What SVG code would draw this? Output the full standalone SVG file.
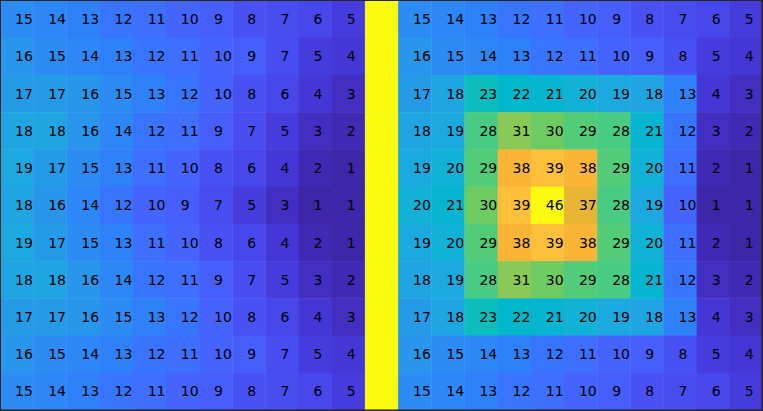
<svg xmlns="http://www.w3.org/2000/svg" width="763" height="411" viewBox="0 0 763 411">
<style>
rect{stroke:none}
text{font-family:"DejaVu Sans",sans-serif;font-size:14px;fill:#000}
.c1{fill:#3e26a8}.c2{fill:#402ab4}.c3{fill:#422ec0}.c4{fill:#4537d5}.c5{fill:#463cde}
.c6{fill:#4747eb}.c7{fill:#484df0}.c8{fill:#4852f4}.c9{fill:#465efb}.c10{fill:#4563fd}
.c11{fill:#3e6fff}.c12{fill:#3875fe}.c13{fill:#2f81fa}.c14{fill:#2e87f7}.c15{fill:#2d8cf3}
.c16{fill:#2796eb}.c17{fill:#259be8}.c18{fill:#20a5e3}.c19{fill:#1ca9df}.c20{fill:#12b1d6}
.c21{fill:#08b5d0}.c22{fill:#01b8ca}.c23{fill:#0bbdbd}.c28{fill:#4acb84}.c29{fill:#53cc7a}
.c30{fill:#6ecb62}.c31{fill:#8ac958}.c37{fill:#e8b534}.c38{fill:#fbb536}.c39{fill:#fec03a}
.c46{fill:#fbfb10}
</style>
<g id="heatmap">
<g id="row0" transform="translate(0,0.5)">
<rect x="0" y="0" width="33.6" height="37.7" class="c15"/><rect x="33.17" y="0" width="33.6" height="37.7" class="c14"/><rect x="66.35" y="0" width="33.6" height="37.7" class="c13"/><rect x="99.52" y="0" width="33.6" height="37.7" class="c12"/><rect x="132.7" y="0" width="33.6" height="37.7" class="c11"/><rect x="165.87" y="0" width="33.6" height="37.7" class="c10"/><rect x="199.04" y="0" width="33.6" height="37.7" class="c9"/><rect x="232.22" y="0" width="33.6" height="37.7" class="c8"/><rect x="265.39" y="0" width="33.6" height="37.7" class="c7"/><rect x="298.57" y="0" width="33.6" height="37.7" class="c6"/><rect x="331.74" y="0" width="33.6" height="37.7" class="c5"/><rect x="364.91" y="0" width="33.6" height="37.7" class="c46"/><rect x="398.09" y="0" width="33.6" height="37.7" class="c15"/><rect x="431.26" y="0" width="33.6" height="37.7" class="c14"/><rect x="464.43" y="0" width="33.6" height="37.7" class="c13"/><rect x="497.61" y="0" width="33.6" height="37.7" class="c12"/><rect x="530.78" y="0" width="33.6" height="37.7" class="c11"/><rect x="563.96" y="0" width="33.6" height="37.7" class="c10"/><rect x="597.13" y="0" width="33.6" height="37.7" class="c9"/><rect x="630.3" y="0" width="33.6" height="37.7" class="c8"/><rect x="663.48" y="0" width="33.6" height="37.7" class="c7"/><rect x="696.65" y="0" width="33.6" height="37.7" class="c6"/><rect x="729.83" y="0" width="33.6" height="37.7" class="c5"/>
<text x="15" y="23.7">15</text><text x="48.17" y="23.7">14</text><text x="81.35" y="23.7">13</text><text x="114.52" y="23.7">12</text><text x="147.7" y="23.7">11</text><text x="180.87" y="23.7">10</text><text x="214.04" y="23.7">9</text><text x="247.22" y="23.7">8</text><text x="280.39" y="23.7">7</text><text x="313.57" y="23.7">6</text><text x="346.74" y="23.7">5</text><text x="413.09" y="23.7">15</text><text x="446.26" y="23.7">14</text><text x="479.43" y="23.7">13</text><text x="512.61" y="23.7">12</text><text x="545.78" y="23.7">11</text><text x="578.96" y="23.7">10</text><text x="612.13" y="23.7">9</text><text x="645.3" y="23.7">8</text><text x="678.48" y="23.7">7</text><text x="711.65" y="23.7">6</text><text x="744.83" y="23.7">5</text>
</g>
<g id="row1" transform="translate(0,37.73)">
<rect x="0" y="0" width="33.6" height="37.7" class="c16"/><rect x="33.17" y="0" width="33.6" height="37.7" class="c15"/><rect x="66.35" y="0" width="33.6" height="37.7" class="c14"/><rect x="99.52" y="0" width="33.6" height="37.7" class="c13"/><rect x="132.7" y="0" width="33.6" height="37.7" class="c12"/><rect x="165.87" y="0" width="33.6" height="37.7" class="c11"/><rect x="199.04" y="0" width="33.6" height="37.7" class="c10"/><rect x="232.22" y="0" width="33.6" height="37.7" class="c9"/><rect x="265.39" y="0" width="33.6" height="37.7" class="c7"/><rect x="298.57" y="0" width="33.6" height="37.7" class="c5"/><rect x="331.74" y="0" width="33.6" height="37.7" class="c4"/><rect x="364.91" y="0" width="33.6" height="37.7" class="c46"/><rect x="398.09" y="0" width="33.6" height="37.7" class="c16"/><rect x="431.26" y="0" width="33.6" height="37.7" class="c15"/><rect x="464.43" y="0" width="33.6" height="37.7" class="c14"/><rect x="497.61" y="0" width="33.6" height="37.7" class="c13"/><rect x="530.78" y="0" width="33.6" height="37.7" class="c12"/><rect x="563.96" y="0" width="33.6" height="37.7" class="c11"/><rect x="597.13" y="0" width="33.6" height="37.7" class="c10"/><rect x="630.3" y="0" width="33.6" height="37.7" class="c9"/><rect x="663.48" y="0" width="33.6" height="37.7" class="c8"/><rect x="696.65" y="0" width="33.6" height="37.7" class="c5"/><rect x="729.83" y="0" width="33.6" height="37.7" class="c4"/>
<text x="15" y="23.7">16</text><text x="48.17" y="23.7">15</text><text x="81.35" y="23.7">14</text><text x="114.52" y="23.7">13</text><text x="147.7" y="23.7">12</text><text x="180.87" y="23.7">11</text><text x="214.04" y="23.7">10</text><text x="247.22" y="23.7">9</text><text x="280.39" y="23.7">7</text><text x="313.57" y="23.7">5</text><text x="346.74" y="23.7">4</text><text x="413.09" y="23.7">16</text><text x="446.26" y="23.7">15</text><text x="479.43" y="23.7">14</text><text x="512.61" y="23.7">13</text><text x="545.78" y="23.7">12</text><text x="578.96" y="23.7">11</text><text x="612.13" y="23.7">10</text><text x="645.3" y="23.7">9</text><text x="678.48" y="23.7">8</text><text x="711.65" y="23.7">5</text><text x="744.83" y="23.7">4</text>
</g>
<g id="row2" transform="translate(0,74.95)">
<rect x="0" y="0" width="33.6" height="37.7" class="c17"/><rect x="33.17" y="0" width="33.6" height="37.7" class="c17"/><rect x="66.35" y="0" width="33.6" height="37.7" class="c16"/><rect x="99.52" y="0" width="33.6" height="37.7" class="c15"/><rect x="132.7" y="0" width="33.6" height="37.7" class="c13"/><rect x="165.87" y="0" width="33.6" height="37.7" class="c12"/><rect x="199.04" y="0" width="33.6" height="37.7" class="c10"/><rect x="232.22" y="0" width="33.6" height="37.7" class="c8"/><rect x="265.39" y="0" width="33.6" height="37.7" class="c6"/><rect x="298.57" y="0" width="33.6" height="37.7" class="c4"/><rect x="331.74" y="0" width="33.6" height="37.7" class="c3"/><rect x="364.91" y="0" width="33.6" height="37.7" class="c46"/><rect x="398.09" y="0" width="33.6" height="37.7" class="c17"/><rect x="431.26" y="0" width="33.6" height="37.7" class="c18"/><rect x="464.43" y="0" width="33.6" height="37.7" class="c23"/><rect x="497.61" y="0" width="33.6" height="37.7" class="c22"/><rect x="530.78" y="0" width="33.6" height="37.7" class="c21"/><rect x="563.96" y="0" width="33.6" height="37.7" class="c20"/><rect x="597.13" y="0" width="33.6" height="37.7" class="c19"/><rect x="630.3" y="0" width="33.6" height="37.7" class="c18"/><rect x="663.48" y="0" width="33.6" height="37.7" class="c13"/><rect x="696.65" y="0" width="33.6" height="37.7" class="c4"/><rect x="729.83" y="0" width="33.6" height="37.7" class="c3"/>
<text x="15" y="23.7">17</text><text x="48.17" y="23.7">17</text><text x="81.35" y="23.7">16</text><text x="114.52" y="23.7">15</text><text x="147.7" y="23.7">13</text><text x="180.87" y="23.7">12</text><text x="214.04" y="23.7">10</text><text x="247.22" y="23.7">8</text><text x="280.39" y="23.7">6</text><text x="313.57" y="23.7">4</text><text x="346.74" y="23.7">3</text><text x="413.09" y="23.7">17</text><text x="446.26" y="23.7">18</text><text x="479.43" y="23.7">23</text><text x="512.61" y="23.7">22</text><text x="545.78" y="23.7">21</text><text x="578.96" y="23.7">20</text><text x="612.13" y="23.7">19</text><text x="645.3" y="23.7">18</text><text x="678.48" y="23.7">13</text><text x="711.65" y="23.7">4</text><text x="744.83" y="23.7">3</text>
</g>
<g id="row3" transform="translate(0,112.18)">
<rect x="0" y="0" width="33.6" height="37.7" class="c18"/><rect x="33.17" y="0" width="33.6" height="37.7" class="c18"/><rect x="66.35" y="0" width="33.6" height="37.7" class="c16"/><rect x="99.52" y="0" width="33.6" height="37.7" class="c14"/><rect x="132.7" y="0" width="33.6" height="37.7" class="c12"/><rect x="165.87" y="0" width="33.6" height="37.7" class="c11"/><rect x="199.04" y="0" width="33.6" height="37.7" class="c9"/><rect x="232.22" y="0" width="33.6" height="37.7" class="c7"/><rect x="265.39" y="0" width="33.6" height="37.7" class="c5"/><rect x="298.57" y="0" width="33.6" height="37.7" class="c3"/><rect x="331.74" y="0" width="33.6" height="37.7" class="c2"/><rect x="364.91" y="0" width="33.6" height="37.7" class="c46"/><rect x="398.09" y="0" width="33.6" height="37.7" class="c18"/><rect x="431.26" y="0" width="33.6" height="37.7" class="c19"/><rect x="464.43" y="0" width="33.6" height="37.7" class="c28"/><rect x="497.61" y="0" width="33.6" height="37.7" class="c31"/><rect x="530.78" y="0" width="33.6" height="37.7" class="c30"/><rect x="563.96" y="0" width="33.6" height="37.7" class="c29"/><rect x="597.13" y="0" width="33.6" height="37.7" class="c28"/><rect x="630.3" y="0" width="33.6" height="37.7" class="c21"/><rect x="663.48" y="0" width="33.6" height="37.7" class="c12"/><rect x="696.65" y="0" width="33.6" height="37.7" class="c3"/><rect x="729.83" y="0" width="33.6" height="37.7" class="c2"/>
<text x="15" y="23.7">18</text><text x="48.17" y="23.7">18</text><text x="81.35" y="23.7">16</text><text x="114.52" y="23.7">14</text><text x="147.7" y="23.7">12</text><text x="180.87" y="23.7">11</text><text x="214.04" y="23.7">9</text><text x="247.22" y="23.7">7</text><text x="280.39" y="23.7">5</text><text x="313.57" y="23.7">3</text><text x="346.74" y="23.7">2</text><text x="413.09" y="23.7">18</text><text x="446.26" y="23.7">19</text><text x="479.43" y="23.7">28</text><text x="512.61" y="23.7">31</text><text x="545.78" y="23.7">30</text><text x="578.96" y="23.7">29</text><text x="612.13" y="23.7">28</text><text x="645.3" y="23.7">21</text><text x="678.48" y="23.7">12</text><text x="711.65" y="23.7">3</text><text x="744.83" y="23.7">2</text>
</g>
<g id="row4" transform="translate(0,149.41)">
<rect x="0" y="0" width="33.6" height="37.7" class="c19"/><rect x="33.17" y="0" width="33.6" height="37.7" class="c17"/><rect x="66.35" y="0" width="33.6" height="37.7" class="c15"/><rect x="99.52" y="0" width="33.6" height="37.7" class="c13"/><rect x="132.7" y="0" width="33.6" height="37.7" class="c11"/><rect x="165.87" y="0" width="33.6" height="37.7" class="c10"/><rect x="199.04" y="0" width="33.6" height="37.7" class="c8"/><rect x="232.22" y="0" width="33.6" height="37.7" class="c6"/><rect x="265.39" y="0" width="33.6" height="37.7" class="c4"/><rect x="298.57" y="0" width="33.6" height="37.7" class="c2"/><rect x="331.74" y="0" width="33.6" height="37.7" class="c1"/><rect x="364.91" y="0" width="33.6" height="37.7" class="c46"/><rect x="398.09" y="0" width="33.6" height="37.7" class="c19"/><rect x="431.26" y="0" width="33.6" height="37.7" class="c20"/><rect x="464.43" y="0" width="33.6" height="37.7" class="c29"/><rect x="497.61" y="0" width="33.6" height="37.7" class="c38"/><rect x="530.78" y="0" width="33.6" height="37.7" class="c39"/><rect x="563.96" y="0" width="33.6" height="37.7" class="c38"/><rect x="597.13" y="0" width="33.6" height="37.7" class="c29"/><rect x="630.3" y="0" width="33.6" height="37.7" class="c20"/><rect x="663.48" y="0" width="33.6" height="37.7" class="c11"/><rect x="696.65" y="0" width="33.6" height="37.7" class="c2"/><rect x="729.83" y="0" width="33.6" height="37.7" class="c1"/>
<text x="15" y="23.7">19</text><text x="48.17" y="23.7">17</text><text x="81.35" y="23.7">15</text><text x="114.52" y="23.7">13</text><text x="147.7" y="23.7">11</text><text x="180.87" y="23.7">10</text><text x="214.04" y="23.7">8</text><text x="247.22" y="23.7">6</text><text x="280.39" y="23.7">4</text><text x="313.57" y="23.7">2</text><text x="346.74" y="23.7">1</text><text x="413.09" y="23.7">19</text><text x="446.26" y="23.7">20</text><text x="479.43" y="23.7">29</text><text x="512.61" y="23.7">38</text><text x="545.78" y="23.7">39</text><text x="578.96" y="23.7">38</text><text x="612.13" y="23.7">29</text><text x="645.3" y="23.7">20</text><text x="678.48" y="23.7">11</text><text x="711.65" y="23.7">2</text><text x="744.83" y="23.7">1</text>
</g>
<g id="row5" transform="translate(0,186.64)">
<rect x="0" y="0" width="33.6" height="37.7" class="c18"/><rect x="33.17" y="0" width="33.6" height="37.7" class="c16"/><rect x="66.35" y="0" width="33.6" height="37.7" class="c14"/><rect x="99.52" y="0" width="33.6" height="37.7" class="c12"/><rect x="132.7" y="0" width="33.6" height="37.7" class="c10"/><rect x="165.87" y="0" width="33.6" height="37.7" class="c9"/><rect x="199.04" y="0" width="33.6" height="37.7" class="c7"/><rect x="232.22" y="0" width="33.6" height="37.7" class="c5"/><rect x="265.39" y="0" width="33.6" height="37.7" class="c3"/><rect x="298.57" y="0" width="33.6" height="37.7" class="c1"/><rect x="331.74" y="0" width="33.6" height="37.7" class="c1"/><rect x="364.91" y="0" width="33.6" height="37.7" class="c46"/><rect x="398.09" y="0" width="33.6" height="37.7" class="c20"/><rect x="431.26" y="0" width="33.6" height="37.7" class="c21"/><rect x="464.43" y="0" width="33.6" height="37.7" class="c30"/><rect x="497.61" y="0" width="33.6" height="37.7" class="c39"/><rect x="530.78" y="0" width="33.6" height="37.7" class="c46"/><rect x="563.96" y="0" width="33.6" height="37.7" class="c37"/><rect x="597.13" y="0" width="33.6" height="37.7" class="c28"/><rect x="630.3" y="0" width="33.6" height="37.7" class="c19"/><rect x="663.48" y="0" width="33.6" height="37.7" class="c10"/><rect x="696.65" y="0" width="33.6" height="37.7" class="c1"/><rect x="729.83" y="0" width="33.6" height="37.7" class="c1"/>
<text x="15" y="23.7">18</text><text x="48.17" y="23.7">16</text><text x="81.35" y="23.7">14</text><text x="114.52" y="23.7">12</text><text x="147.7" y="23.7">10</text><text x="180.87" y="23.7">9</text><text x="214.04" y="23.7">7</text><text x="247.22" y="23.7">5</text><text x="280.39" y="23.7">3</text><text x="313.57" y="23.7">1</text><text x="346.74" y="23.7">1</text><text x="413.09" y="23.7">20</text><text x="446.26" y="23.7">21</text><text x="479.43" y="23.7">30</text><text x="512.61" y="23.7">39</text><text x="545.78" y="23.7">46</text><text x="578.96" y="23.7">37</text><text x="612.13" y="23.7">28</text><text x="645.3" y="23.7">19</text><text x="678.48" y="23.7">10</text><text x="711.65" y="23.7">1</text><text x="744.83" y="23.7">1</text>
</g>
<g id="row6" transform="translate(0,223.86)">
<rect x="0" y="0" width="33.6" height="37.7" class="c19"/><rect x="33.17" y="0" width="33.6" height="37.7" class="c17"/><rect x="66.35" y="0" width="33.6" height="37.7" class="c15"/><rect x="99.52" y="0" width="33.6" height="37.7" class="c13"/><rect x="132.7" y="0" width="33.6" height="37.7" class="c11"/><rect x="165.87" y="0" width="33.6" height="37.7" class="c10"/><rect x="199.04" y="0" width="33.6" height="37.7" class="c8"/><rect x="232.22" y="0" width="33.6" height="37.7" class="c6"/><rect x="265.39" y="0" width="33.6" height="37.7" class="c4"/><rect x="298.57" y="0" width="33.6" height="37.7" class="c2"/><rect x="331.74" y="0" width="33.6" height="37.7" class="c1"/><rect x="364.91" y="0" width="33.6" height="37.7" class="c46"/><rect x="398.09" y="0" width="33.6" height="37.7" class="c19"/><rect x="431.26" y="0" width="33.6" height="37.7" class="c20"/><rect x="464.43" y="0" width="33.6" height="37.7" class="c29"/><rect x="497.61" y="0" width="33.6" height="37.7" class="c38"/><rect x="530.78" y="0" width="33.6" height="37.7" class="c39"/><rect x="563.96" y="0" width="33.6" height="37.7" class="c38"/><rect x="597.13" y="0" width="33.6" height="37.7" class="c29"/><rect x="630.3" y="0" width="33.6" height="37.7" class="c20"/><rect x="663.48" y="0" width="33.6" height="37.7" class="c11"/><rect x="696.65" y="0" width="33.6" height="37.7" class="c2"/><rect x="729.83" y="0" width="33.6" height="37.7" class="c1"/>
<text x="15" y="23.7">19</text><text x="48.17" y="23.7">17</text><text x="81.35" y="23.7">15</text><text x="114.52" y="23.7">13</text><text x="147.7" y="23.7">11</text><text x="180.87" y="23.7">10</text><text x="214.04" y="23.7">8</text><text x="247.22" y="23.7">6</text><text x="280.39" y="23.7">4</text><text x="313.57" y="23.7">2</text><text x="346.74" y="23.7">1</text><text x="413.09" y="23.7">19</text><text x="446.26" y="23.7">20</text><text x="479.43" y="23.7">29</text><text x="512.61" y="23.7">38</text><text x="545.78" y="23.7">39</text><text x="578.96" y="23.7">38</text><text x="612.13" y="23.7">29</text><text x="645.3" y="23.7">20</text><text x="678.48" y="23.7">11</text><text x="711.65" y="23.7">2</text><text x="744.83" y="23.7">1</text>
</g>
<g id="row7" transform="translate(0,261.09)">
<rect x="0" y="0" width="33.6" height="37.7" class="c18"/><rect x="33.17" y="0" width="33.6" height="37.7" class="c18"/><rect x="66.35" y="0" width="33.6" height="37.7" class="c16"/><rect x="99.52" y="0" width="33.6" height="37.7" class="c14"/><rect x="132.7" y="0" width="33.6" height="37.7" class="c12"/><rect x="165.87" y="0" width="33.6" height="37.7" class="c11"/><rect x="199.04" y="0" width="33.6" height="37.7" class="c9"/><rect x="232.22" y="0" width="33.6" height="37.7" class="c7"/><rect x="265.39" y="0" width="33.6" height="37.7" class="c5"/><rect x="298.57" y="0" width="33.6" height="37.7" class="c3"/><rect x="331.74" y="0" width="33.6" height="37.7" class="c2"/><rect x="364.91" y="0" width="33.6" height="37.7" class="c46"/><rect x="398.09" y="0" width="33.6" height="37.7" class="c18"/><rect x="431.26" y="0" width="33.6" height="37.7" class="c19"/><rect x="464.43" y="0" width="33.6" height="37.7" class="c28"/><rect x="497.61" y="0" width="33.6" height="37.7" class="c31"/><rect x="530.78" y="0" width="33.6" height="37.7" class="c30"/><rect x="563.96" y="0" width="33.6" height="37.7" class="c29"/><rect x="597.13" y="0" width="33.6" height="37.7" class="c28"/><rect x="630.3" y="0" width="33.6" height="37.7" class="c21"/><rect x="663.48" y="0" width="33.6" height="37.7" class="c12"/><rect x="696.65" y="0" width="33.6" height="37.7" class="c3"/><rect x="729.83" y="0" width="33.6" height="37.7" class="c2"/>
<text x="15" y="23.7">18</text><text x="48.17" y="23.7">18</text><text x="81.35" y="23.7">16</text><text x="114.52" y="23.7">14</text><text x="147.7" y="23.7">12</text><text x="180.87" y="23.7">11</text><text x="214.04" y="23.7">9</text><text x="247.22" y="23.7">7</text><text x="280.39" y="23.7">5</text><text x="313.57" y="23.7">3</text><text x="346.74" y="23.7">2</text><text x="413.09" y="23.7">18</text><text x="446.26" y="23.7">19</text><text x="479.43" y="23.7">28</text><text x="512.61" y="23.7">31</text><text x="545.78" y="23.7">30</text><text x="578.96" y="23.7">29</text><text x="612.13" y="23.7">28</text><text x="645.3" y="23.7">21</text><text x="678.48" y="23.7">12</text><text x="711.65" y="23.7">3</text><text x="744.83" y="23.7">2</text>
</g>
<g id="row8" transform="translate(0,298.32)">
<rect x="0" y="0" width="33.6" height="37.7" class="c17"/><rect x="33.17" y="0" width="33.6" height="37.7" class="c17"/><rect x="66.35" y="0" width="33.6" height="37.7" class="c16"/><rect x="99.52" y="0" width="33.6" height="37.7" class="c15"/><rect x="132.7" y="0" width="33.6" height="37.7" class="c13"/><rect x="165.87" y="0" width="33.6" height="37.7" class="c12"/><rect x="199.04" y="0" width="33.6" height="37.7" class="c10"/><rect x="232.22" y="0" width="33.6" height="37.7" class="c8"/><rect x="265.39" y="0" width="33.6" height="37.7" class="c6"/><rect x="298.57" y="0" width="33.6" height="37.7" class="c4"/><rect x="331.74" y="0" width="33.6" height="37.7" class="c3"/><rect x="364.91" y="0" width="33.6" height="37.7" class="c46"/><rect x="398.09" y="0" width="33.6" height="37.7" class="c17"/><rect x="431.26" y="0" width="33.6" height="37.7" class="c18"/><rect x="464.43" y="0" width="33.6" height="37.7" class="c23"/><rect x="497.61" y="0" width="33.6" height="37.7" class="c22"/><rect x="530.78" y="0" width="33.6" height="37.7" class="c21"/><rect x="563.96" y="0" width="33.6" height="37.7" class="c20"/><rect x="597.13" y="0" width="33.6" height="37.7" class="c19"/><rect x="630.3" y="0" width="33.6" height="37.7" class="c18"/><rect x="663.48" y="0" width="33.6" height="37.7" class="c13"/><rect x="696.65" y="0" width="33.6" height="37.7" class="c4"/><rect x="729.83" y="0" width="33.6" height="37.7" class="c3"/>
<text x="15" y="23.7">17</text><text x="48.17" y="23.7">17</text><text x="81.35" y="23.7">16</text><text x="114.52" y="23.7">15</text><text x="147.7" y="23.7">13</text><text x="180.87" y="23.7">12</text><text x="214.04" y="23.7">10</text><text x="247.22" y="23.7">8</text><text x="280.39" y="23.7">6</text><text x="313.57" y="23.7">4</text><text x="346.74" y="23.7">3</text><text x="413.09" y="23.7">17</text><text x="446.26" y="23.7">18</text><text x="479.43" y="23.7">23</text><text x="512.61" y="23.7">22</text><text x="545.78" y="23.7">21</text><text x="578.96" y="23.7">20</text><text x="612.13" y="23.7">19</text><text x="645.3" y="23.7">18</text><text x="678.48" y="23.7">13</text><text x="711.65" y="23.7">4</text><text x="744.83" y="23.7">3</text>
</g>
<g id="row9" transform="translate(0,335.54)">
<rect x="0" y="0" width="33.6" height="37.7" class="c16"/><rect x="33.17" y="0" width="33.6" height="37.7" class="c15"/><rect x="66.35" y="0" width="33.6" height="37.7" class="c14"/><rect x="99.52" y="0" width="33.6" height="37.7" class="c13"/><rect x="132.7" y="0" width="33.6" height="37.7" class="c12"/><rect x="165.87" y="0" width="33.6" height="37.7" class="c11"/><rect x="199.04" y="0" width="33.6" height="37.7" class="c10"/><rect x="232.22" y="0" width="33.6" height="37.7" class="c9"/><rect x="265.39" y="0" width="33.6" height="37.7" class="c7"/><rect x="298.57" y="0" width="33.6" height="37.7" class="c5"/><rect x="331.74" y="0" width="33.6" height="37.7" class="c4"/><rect x="364.91" y="0" width="33.6" height="37.7" class="c46"/><rect x="398.09" y="0" width="33.6" height="37.7" class="c16"/><rect x="431.26" y="0" width="33.6" height="37.7" class="c15"/><rect x="464.43" y="0" width="33.6" height="37.7" class="c14"/><rect x="497.61" y="0" width="33.6" height="37.7" class="c13"/><rect x="530.78" y="0" width="33.6" height="37.7" class="c12"/><rect x="563.96" y="0" width="33.6" height="37.7" class="c11"/><rect x="597.13" y="0" width="33.6" height="37.7" class="c10"/><rect x="630.3" y="0" width="33.6" height="37.7" class="c9"/><rect x="663.48" y="0" width="33.6" height="37.7" class="c8"/><rect x="696.65" y="0" width="33.6" height="37.7" class="c5"/><rect x="729.83" y="0" width="33.6" height="37.7" class="c4"/>
<text x="15" y="23.7">16</text><text x="48.17" y="23.7">15</text><text x="81.35" y="23.7">14</text><text x="114.52" y="23.7">13</text><text x="147.7" y="23.7">12</text><text x="180.87" y="23.7">11</text><text x="214.04" y="23.7">10</text><text x="247.22" y="23.7">9</text><text x="280.39" y="23.7">7</text><text x="313.57" y="23.7">5</text><text x="346.74" y="23.7">4</text><text x="413.09" y="23.7">16</text><text x="446.26" y="23.7">15</text><text x="479.43" y="23.7">14</text><text x="512.61" y="23.7">13</text><text x="545.78" y="23.7">12</text><text x="578.96" y="23.7">11</text><text x="612.13" y="23.7">10</text><text x="645.3" y="23.7">9</text><text x="678.48" y="23.7">8</text><text x="711.65" y="23.7">5</text><text x="744.83" y="23.7">4</text>
</g>
<g id="row10" transform="translate(0,372.77)">
<rect x="0" y="0" width="33.6" height="37.7" class="c15"/><rect x="33.17" y="0" width="33.6" height="37.7" class="c14"/><rect x="66.35" y="0" width="33.6" height="37.7" class="c13"/><rect x="99.52" y="0" width="33.6" height="37.7" class="c12"/><rect x="132.7" y="0" width="33.6" height="37.7" class="c11"/><rect x="165.87" y="0" width="33.6" height="37.7" class="c10"/><rect x="199.04" y="0" width="33.6" height="37.7" class="c9"/><rect x="232.22" y="0" width="33.6" height="37.7" class="c8"/><rect x="265.39" y="0" width="33.6" height="37.7" class="c7"/><rect x="298.57" y="0" width="33.6" height="37.7" class="c6"/><rect x="331.74" y="0" width="33.6" height="37.7" class="c5"/><rect x="364.91" y="0" width="33.6" height="37.7" class="c46"/><rect x="398.09" y="0" width="33.6" height="37.7" class="c15"/><rect x="431.26" y="0" width="33.6" height="37.7" class="c14"/><rect x="464.43" y="0" width="33.6" height="37.7" class="c13"/><rect x="497.61" y="0" width="33.6" height="37.7" class="c12"/><rect x="530.78" y="0" width="33.6" height="37.7" class="c11"/><rect x="563.96" y="0" width="33.6" height="37.7" class="c10"/><rect x="597.13" y="0" width="33.6" height="37.7" class="c9"/><rect x="630.3" y="0" width="33.6" height="37.7" class="c8"/><rect x="663.48" y="0" width="33.6" height="37.7" class="c7"/><rect x="696.65" y="0" width="33.6" height="37.7" class="c6"/><rect x="729.83" y="0" width="33.6" height="37.7" class="c5"/>
<text x="15" y="23.7">15</text><text x="48.17" y="23.7">14</text><text x="81.35" y="23.7">13</text><text x="114.52" y="23.7">12</text><text x="147.7" y="23.7">11</text><text x="180.87" y="23.7">10</text><text x="214.04" y="23.7">9</text><text x="247.22" y="23.7">8</text><text x="280.39" y="23.7">7</text><text x="313.57" y="23.7">6</text><text x="346.74" y="23.7">5</text><text x="413.09" y="23.7">15</text><text x="446.26" y="23.7">14</text><text x="479.43" y="23.7">13</text><text x="512.61" y="23.7">12</text><text x="545.78" y="23.7">11</text><text x="578.96" y="23.7">10</text><text x="612.13" y="23.7">9</text><text x="645.3" y="23.7">8</text><text x="678.48" y="23.7">7</text><text x="711.65" y="23.7">6</text><text x="744.83" y="23.7">5</text>
</g>
</g>
<path id="frame" fill="#262626" fill-rule="evenodd" d="M0 0H763V411H0Z M1 1V409.5H761.3V1Z"/>
</svg>
